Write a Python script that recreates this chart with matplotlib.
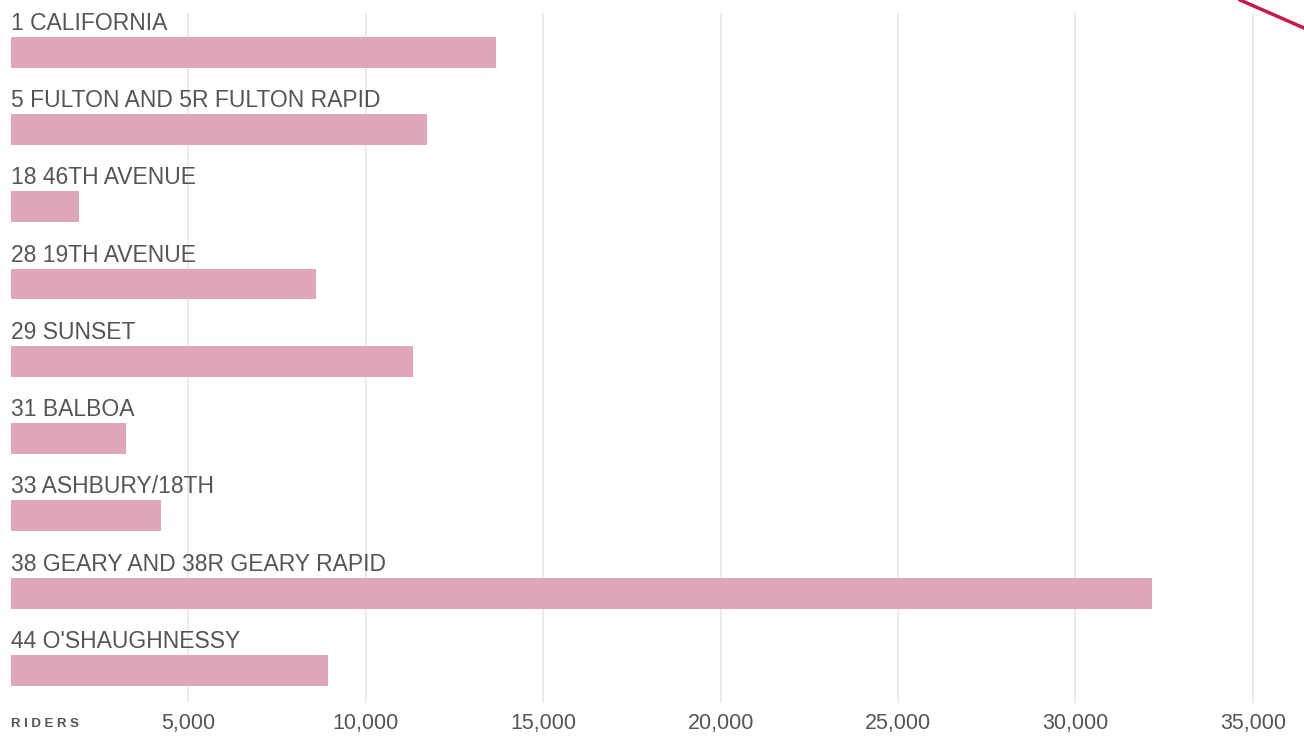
import matplotlib
matplotlib.use("Agg")
import matplotlib.pyplot as plt
from matplotlib.lines import Line2D

# route names and daily riders
routes = ["1 CALIFORNIA", "5 FULTON AND 5R FULTON RAPID", "18 46TH AVENUE",
          "28 19TH AVENUE", "29 SUNSET", "31 BALBOA", "33 ASHBURY/18TH",
          "38 GEARY AND 38R GEARY RAPID", "44 O'SHAUGHNESSY"]
riders = [13670, 11725, 1920, 8600, 11330, 3240, 4230, 32160, 8935]
xticks = [5000, 10000, 15000, 20000, 25000, 30000, 35000]
xtick_labels = ["5,000", "10,000", "15,000", "20,000", "25,000", "30,000", "35,000"]

bar_color = "#e0a6bb"
text_color = "#555555"
fam = ["Liberation Sans", "DejaVu Sans"]

fig = plt.figure(figsize=(13.04, 7.36), dpi=100)
ax = fig.add_axes([11 / 1304, 1 - 703 / 736, 1 - 11 / 1304, 690 / 736])

ypos = list(range(len(routes)))
ax.barh(ypos, riders, height=0.4, color=bar_color, zorder=2)

for y, name in zip(ypos, routes):
    ax.text(0, y - 0.29, name, ha="left", va="baseline", fontsize=16.5,
            color=text_color, family=fam, zorder=3)

ax.set_xlim(0, 36440)
ax.set_ylim(8.42, -0.505)
ax.set_xticks(xticks)
ax.set_xticklabels(xtick_labels, fontsize=15.5, color=text_color, family=fam)
ax.set_yticks([])
ax.tick_params(axis="x", length=0, pad=7)
ax.grid(axis="x", color="#e6e6e6", linewidth=1.2, zorder=0)
for s in ax.spines.values():
    s.set_visible(False)

fig.text(11 / 1304, 1 - 724 / 736, "R I D E R S", ha="left", va="center",
         fontsize=9.5, fontweight="bold", color=text_color, family=fam)

# decorative red stroke in the top right corner
fig.add_artist(Line2D([1240 / 1304, 1.0], [1.0, 1 - 28 / 736],
                      transform=fig.transFigure, color="#c8194a", linewidth=2.5))

fig.savefig("out.png", dpi=100)
